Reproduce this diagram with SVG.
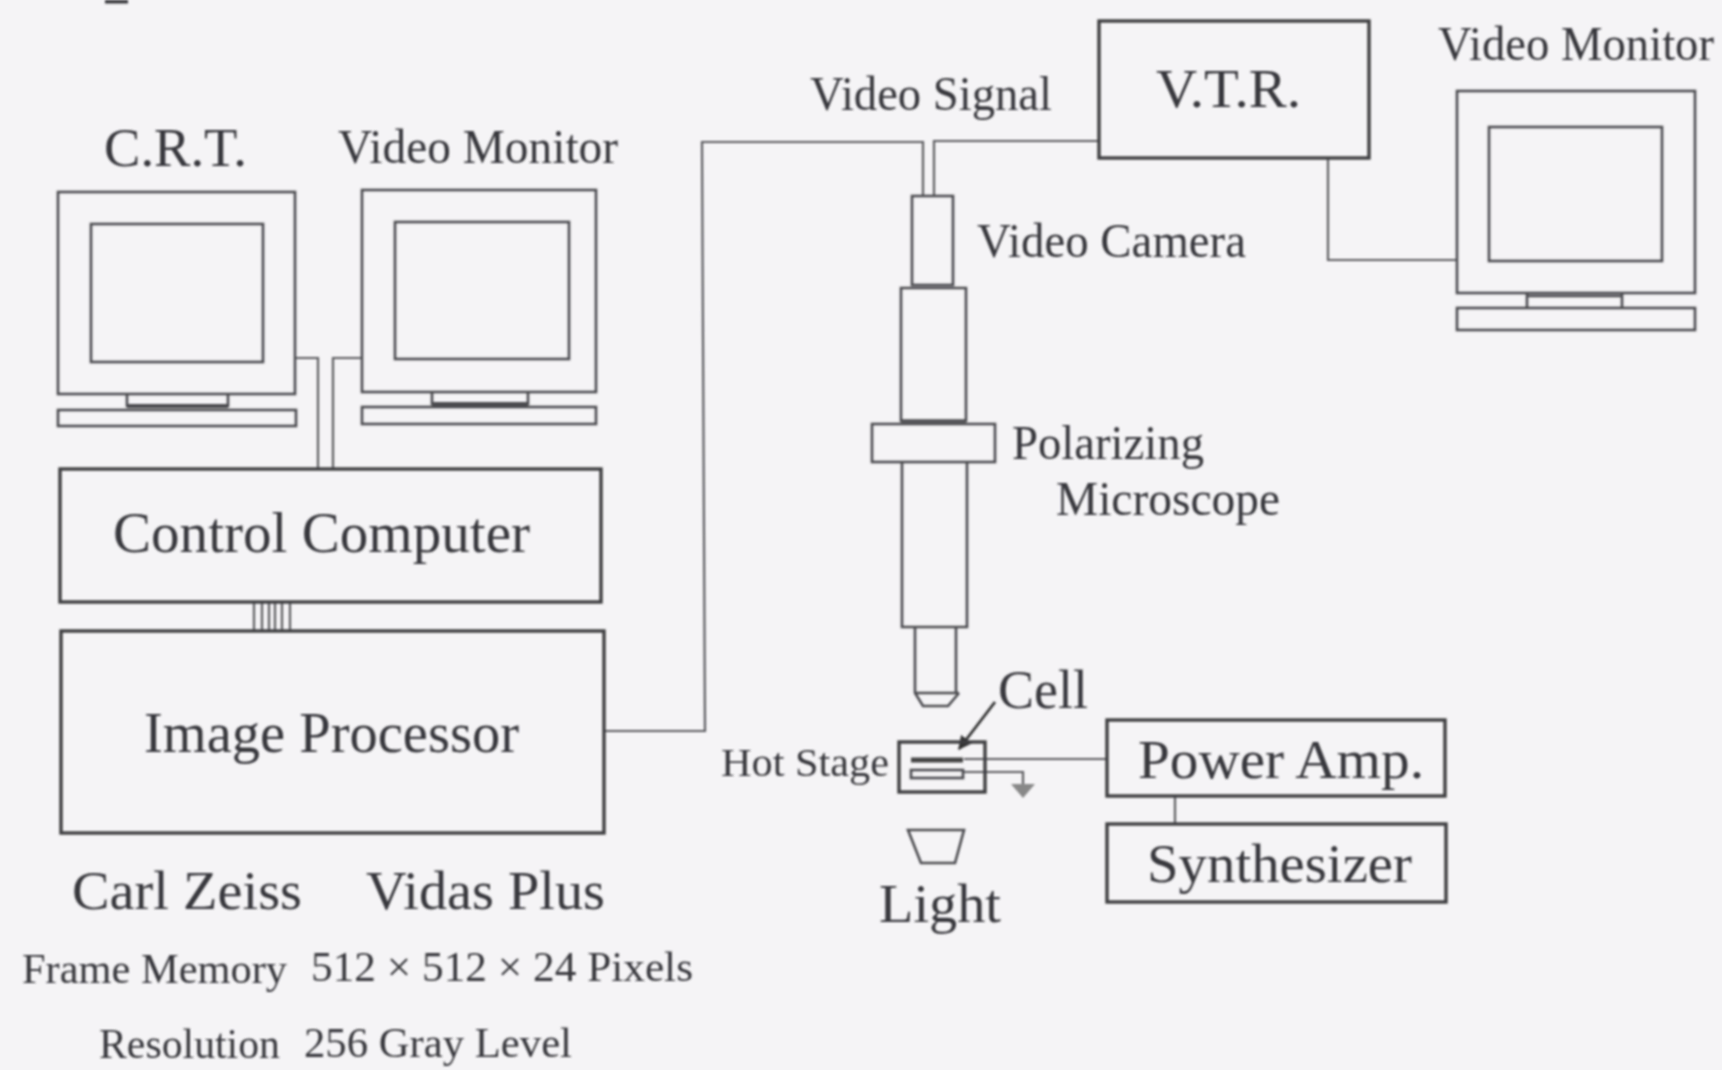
<svg xmlns="http://www.w3.org/2000/svg" width="1722" height="1070" viewBox="0 0 1722 1070">
<defs>
<filter id="soft" x="0" y="0" width="1722" height="1070" filterUnits="userSpaceOnUse"><feGaussianBlur stdDeviation="0.8"/></filter>
<marker id="arrow" viewBox="0 0 10 10" refX="9" refY="5" markerWidth="5" markerHeight="6" markerUnits="strokeWidth" orient="auto"><path d="M0 0L10 5L0 10Z" fill="#333"/></marker>
</defs>
<style>
.b{fill:none;stroke:#3c3c40;stroke-width:3.4}
.t{fill:none;stroke:#4c4c50;stroke-width:2.6}
.c{fill:none;stroke:#5c5c60;stroke-width:2.2}
text{font-family:"Liberation Serif","Times New Roman",serif;fill:#38383c}
</style>
<rect width="1722" height="1070" fill="#f5f4f6"/>
<g filter="url(#soft)">
<g id="connectors">
<path class="c" d="M295 358H318V469M361 358H333V469"/>
<path class="c" d="M254 603V631M262 603V631M269 603V631M275 603V631M282 603V631M290 603V631"/>
<path class="c" d="M604 731H705L702 142H923V196M1099 141H934V196"/>
<path class="c" d="M1328 158V260H1457"/>
<path class="c" d="M964 759H1107"/>
<path class="c" d="M964 772H1023V784"/>
<path class="c" d="M1175 796V824"/>
<path d="M995 702L959 749" fill="none" stroke="#333" stroke-width="2.8" marker-end="url(#arrow)"/>
</g>
<g id="heading-remnant"><rect x="105" y="0" width="23" height="3.5" fill="#38383c"/></g>
<g id="crt">
<rect class="t" x="58" y="192" width="237" height="202"/><rect class="t" x="91" y="224" width="172" height="138"/>
<path class="t" d="M127 394V406H228V394"/><path d="M127 406H228" stroke="#4c4c50" stroke-width="4"/><rect class="t" x="58" y="410" width="238" height="16"/>
<text x="104" y="166" font-size="54" textLength="143" lengthAdjust="spacingAndGlyphs">C.R.T.</text>
</g>
<g id="monitor-left">
<rect class="t" x="362" y="190" width="234" height="202"/><rect class="t" x="395" y="222" width="174" height="137"/>
<path class="t" d="M432 392V404H528V392"/><path d="M432 404H528" stroke="#4c4c50" stroke-width="4"/><rect class="t" x="362" y="407" width="234" height="17"/>
<text x="338" y="163" font-size="48" textLength="280" lengthAdjust="spacingAndGlyphs">Video Monitor</text>
</g>
<g id="control-computer"><rect class="b" x="60" y="469" width="541" height="133"/>
<text x="113" y="552" font-size="57" textLength="417" lengthAdjust="spacingAndGlyphs">Control Computer</text></g>
<g id="image-processor"><rect class="b" x="61" y="631" width="543" height="202"/>
<text x="144" y="752" font-size="56" textLength="375" lengthAdjust="spacingAndGlyphs">Image Processor</text></g>
<g id="vtr"><rect class="b" x="1099" y="21" width="270" height="137"/>
<text x="1156" y="107" font-size="54" textLength="145" lengthAdjust="spacingAndGlyphs">V.T.R.</text></g>
<g id="monitor-right">
<rect class="t" x="1457" y="91" width="238" height="202"/><rect class="t" x="1489" y="127" width="173" height="134"/>
<path class="t" d="M1527 293V308M1622 293V308M1527 296H1622"/><rect class="t" x="1457" y="308" width="238" height="22"/>
<text x="1438" y="60" font-size="48" textLength="276" lengthAdjust="spacingAndGlyphs">Video Monitor</text>
</g>
<g id="microscope">
<rect class="t" x="912" y="196" width="41" height="89"/>
<path class="t" d="M901 422V288H966V422"/><path d="M901 421H966" stroke="#4c4c50" stroke-width="3.5"/>
<rect class="t" x="872" y="424" width="123" height="38"/>
<path class="t" d="M902 462V627H967V462M902 627H967"/>
<path class="t" d="M915 627V693L923 706H948L959 693M956 627V693M915 693H959"/>
<text x="977" y="257" font-size="48" textLength="269" lengthAdjust="spacingAndGlyphs">Video Camera</text>
<text x="1012" y="459" font-size="48" textLength="192" lengthAdjust="spacingAndGlyphs">Polarizing</text>
<text x="1056" y="515" font-size="48" textLength="224" lengthAdjust="spacingAndGlyphs">Microscope</text>
<text x="810" y="110" font-size="48" textLength="242" lengthAdjust="spacingAndGlyphs">Video Signal</text>
</g>
<g id="hot-stage">
<rect class="b" x="899" y="742" width="86" height="50"/>
<path d="M911 760H963" stroke="#444" stroke-width="5"/><rect class="t" x="911" y="770" width="52" height="8"/>
<path d="M1011 784H1035L1023 798Z" fill="#888"/>
<text x="721" y="776" font-size="39" textLength="168" lengthAdjust="spacingAndGlyphs">Hot Stage</text>
<text x="998" y="708" font-size="54" textLength="90" lengthAdjust="spacingAndGlyphs">Cell</text>
</g>
<g id="light"><path class="t" d="M908 830H964L955 863H921Z"/>
<text x="879" y="922" font-size="54" textLength="122" lengthAdjust="spacingAndGlyphs">Light</text></g>
<g id="power-amp"><rect class="b" x="1107" y="720" width="338" height="76"/>
<text x="1138" y="778" font-size="54" textLength="286" lengthAdjust="spacingAndGlyphs">Power Amp.</text></g>
<g id="synthesizer"><rect class="b" x="1107" y="824" width="339" height="78"/>
<text x="1147" y="882" font-size="54" textLength="265" lengthAdjust="spacingAndGlyphs">Synthesizer</text></g>
<g id="specs">
<text x="72" y="909" font-size="54" textLength="230" lengthAdjust="spacingAndGlyphs">Carl Zeiss</text>
<text x="366" y="909" font-size="54" textLength="239" lengthAdjust="spacingAndGlyphs">Vidas Plus</text>
<text x="22" y="983" font-size="42" textLength="265" lengthAdjust="spacingAndGlyphs">Frame Memory</text>
<text x="311" y="981" font-size="42" textLength="382" lengthAdjust="spacingAndGlyphs">512 × 512 × 24 Pixels</text>
<text x="99" y="1058" font-size="42" textLength="181" lengthAdjust="spacingAndGlyphs">Resolution</text>
<text x="304" y="1057" font-size="42" textLength="268" lengthAdjust="spacingAndGlyphs">256 Gray Level</text>
</g>
</g>
</svg>
